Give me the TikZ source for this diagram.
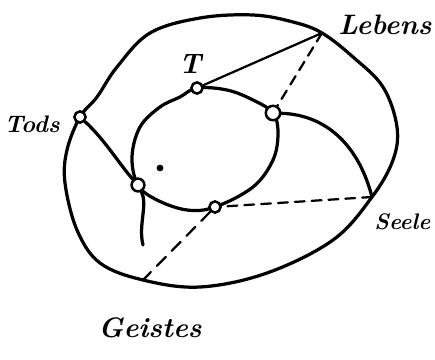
\documentclass[tikz,border=0pt]{standalone}
\usepackage{fontspec}
\usepackage{tikz}
\usetikzlibrary{arrows.meta, positioning, calc}

\begin{document}
\begin{tikzpicture}[x=0.025cm, y=-0.025cm, line cap=round, line join=round,
  stroke/.style={line width=2.3pt},
  knot/.style={draw, circle, line width=1.8pt, fill=white, inner sep=0pt, minimum size=0.28cm},
  lbl/.style={font=\fontsize{20}{22}\selectfont\bfseries\itshape, inner sep=1pt},
  ]
  \useasboundingbox (0,0) rectangle (435,360);

  % Outer ring
  \draw[stroke] plot[smooth cycle, tension=0.6] coordinates {
    (117,67) (150,33) (200,18) (253,15) (293,22) (322,33) (353,57) (383,87)
    (397,127) (393,160) (372,197) (333,240) (267,273) (200,287) (143,280)
    (100,263) (77,230) (65,183) (67,150) (80,117) (97,97)};
  % Inner ring
  \draw[stroke] plot[smooth cycle, tension=0.6] coordinates {
    (197,88) (227,90) (253,100) (273,113) (278,133) (273,160) (253,187)
    (215,207) (187,210) (157,200) (138,185) (132,157) (140,127) (160,107) (180,97)};

  % Points on the outer ring
  \coordinate (pLebens) at (322,33);
  \coordinate (pSeele) at (372,197);
  \coordinate (pGeistes) at (143,280);
  \coordinate (pTail) at (143,245);

  % Knots
  \node[knot] (kT) at (197,88) {};
  \node[knot, minimum size=0.36cm] (kR) at (273,113) {};
  \node[knot] (kB) at (215,207) {};
  \node[knot, minimum size=0.32cm] (kL) at (138,185) {};
  \node[knot] (kTods) at (80,117) {};
  \fill (160,168) circle (2.4pt);

  % Labels
  \node[lbl] (tLebens) at (385,25) {Lebens};
  \node[lbl] (tT) at (190,64) {T};
  \node[lbl, font=\fontsize{17}{19}\selectfont\bfseries\itshape] (tTods) at (32,124) {Tods};
  \node[lbl, anchor=east, font=\fontsize{16}{18}\selectfont\bfseries\itshape] (tSeele) at (432,222) {Seele};
  \node[lbl] (tGeistes) at (150,328) {Geistes};

  % Connectors
  \draw[line width=1.6pt] (pLebens) -- (kT);
  \draw[line width=1.6pt, dash pattern=on 7pt off 5pt] (pLebens) -- (kR);
  \draw[stroke] (kR) .. controls (330,115) and (360,150) .. (pSeele);
  \draw[line width=1.6pt, dash pattern=on 7pt off 5pt] (pSeele) -- (kB);
  \draw[line width=1.6pt, dash pattern=on 9pt off 6pt] (kB) -- (pGeistes);
  \draw[stroke] (kTods) .. controls (105,140) and (120,165) .. (kL);
  \draw[stroke] (kL) .. controls (148,205) and (138,225) .. (pTail);
\end{tikzpicture}
\end{document}
